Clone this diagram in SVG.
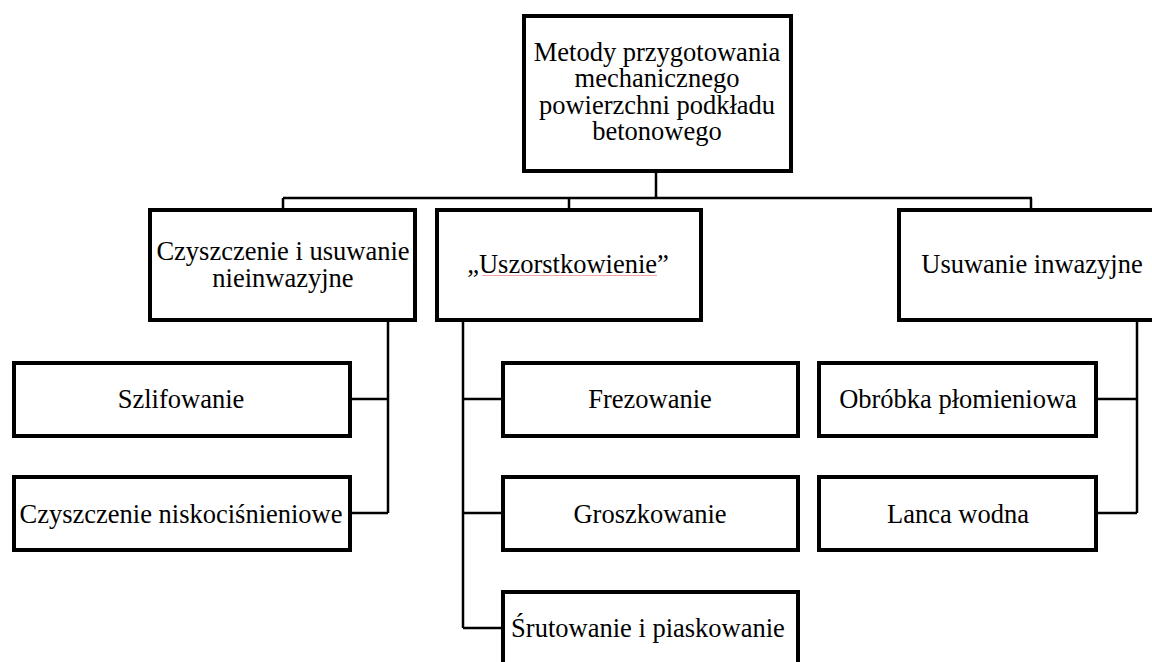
<svg xmlns="http://www.w3.org/2000/svg" width="1152" height="662" viewBox="0 0 1152 662">
<style>
.box{fill:#fff;stroke:#000;stroke-width:4}
.t{font-family:"Liberation Serif","Times New Roman",serif;font-size:26.5px;fill:#000;text-anchor:middle}
.c{fill:none;stroke:#000;stroke-width:2.5}
</style>
<rect width="1152" height="662" fill="#fff"/>
<g id="connectors">
<path class="c" d="M656,173V198M283,198H1032M283,198V210M569,198V210M1031,198V210"/>
<path class="c" d="M388,322V513M350,399H388M350,513H388"/>
<path class="c" d="M463,322V628M463,399H503M463,513H503M463,628H503"/>
<path class="c" d="M1137,322V513M1096,399H1137M1096,513H1137"/>
</g>
<g id="root">
<rect class="box" x="524" y="16" width="267" height="155"/>
<text class="t" x="657" y="61">Metody przygotowania</text>
<text class="t" x="657" y="87.3">mechanicznego</text>
<text class="t" x="657" y="113.6">powierzchni podkładu</text>
<text class="t" x="657" y="140">betonowego</text>
</g>
<g id="czyszczenie">
<rect class="box" x="150" y="210" width="265" height="110"/>
<text class="t" x="283" y="260">Czyszczenie i usuwanie</text>
<text class="t" x="283" y="287">nieinwazyjne</text>
</g>
<g id="uszorstkowienie">
<rect class="box" x="437" y="210" width="264" height="110"/>
<text class="t" x="568" y="273.3">„Uszorstkowienie”</text>
<line x1="482" y1="275.5" x2="657" y2="275.5" stroke="#f3a3a3" stroke-width="1"/>
</g>
<g id="usuwanie">
<rect class="box" x="899" y="210" width="266" height="110"/>
<text class="t" x="1032" y="273.3">Usuwanie inwazyjne</text>
</g>
<g id="szlifowanie">
<rect class="box" x="14" y="363" width="336" height="73"/>
<text class="t" x="181" y="408.3">Szlifowanie</text>
</g>
<g id="niskocisnieniowe">
<rect class="box" x="14" y="477" width="336" height="73"/>
<text class="t" x="181" y="523">Czyszczenie niskociśnieniowe</text>
</g>
<g id="frezowanie">
<rect class="box" x="503" y="363" width="295" height="73"/>
<text class="t" x="650" y="408.3">Frezowanie</text>
</g>
<g id="groszkowanie">
<rect class="box" x="503" y="477" width="295" height="73"/>
<text class="t" x="650" y="522.7">Groszkowanie</text>
</g>
<g id="srutowanie">
<rect class="box" x="503" y="592" width="295" height="73"/>
<text class="t" x="648" y="636.5">Śrutowanie i piaskowanie</text>
</g>
<g id="plomieniowa">
<rect class="box" x="819" y="363" width="277" height="73"/>
<text class="t" x="958" y="408.3">Obróbka płomieniowa</text>
</g>
<g id="lanca">
<rect class="box" x="819" y="477" width="277" height="73"/>
<text class="t" x="958" y="522.7">Lanca wodna</text>
</g>
</svg>
